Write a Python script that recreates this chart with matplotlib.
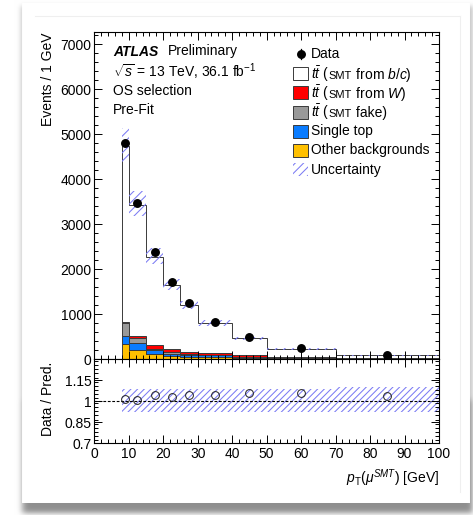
import numpy as np
import matplotlib
matplotlib.use("Agg")
import matplotlib.pyplot as plt
from matplotlib.patches import Rectangle
from matplotlib.lines import Line2D
from matplotlib.offsetbox import TextArea, HPacker, AnchoredOffsetbox
from matplotlib.ticker import MultipleLocator, FixedLocator, FixedFormatter

plt.rcParams['font.family'] = ['Liberation Sans', 'DejaVu Sans']
plt.rcParams['mathtext.fontset'] = 'custom'
plt.rcParams['mathtext.rm'] = 'Liberation Sans'
plt.rcParams['mathtext.it'] = 'Liberation Sans:italic'
plt.rcParams['mathtext.bf'] = 'Liberation Sans:bold'
plt.rcParams['hatch.linewidth'] = 0.75

# ---- binned distributions (events / 1 GeV) ----
bin_edges = [8, 10, 15, 20, 25, 30, 40, 50, 70, 100]
data = [4813, 3467, 2378, 1711, 1258, 836, 494, 243, 89]
other_bkg = [330, 207, 110, 70, 55, 60, 35, 22, 10]
single_top = [195, 148, 95, 55, 40, 25, 12, 6, 3]
ttbar_fake = [275, 126, 22, 35, 15, 8, 6, 4, 2]
ttbar_w = [30, 44, 88, 70, 55, 52, 43, 10, 5]
ttbar_bc = [3910, 2915, 1965, 1425, 1035, 653, 370, 188, 66]
# relative systematic uncertainty on the prediction
unc_up = [0.085, 0.085, 0.085, 0.085, 0.085, 0.085, 0.085, 0.085, 0.10]
unc_dn = [0.075, 0.075, 0.075, 0.075, 0.075, 0.075, 0.075, 0.075, 0.075]

main_yticks = [0, 1000, 2000, 3000, 4000, 5000, 6000, 7000]
ratio_yticks = [0.7, 0.85, 1.0, 1.15, 1.3]
ratio_ylabels = ['0.7', '0.85', '1', '1.15', '']
x_ticks = [0, 10, 20, 30, 40, 50, 60, 70, 80, 90, 100]

W, H = 473, 515
fig = plt.figure(figsize=(W / 100, H / 100), dpi=100)

# ---- card background with soft drop shadow ----
def blur(arr, sigma):
    r = int(3 * sigma)
    k = np.exp(-0.5 * (np.arange(-r, r + 1) / sigma) ** 2)
    k /= k.sum()
    arr = np.apply_along_axis(lambda v: np.convolve(np.pad(v, r, mode='edge'), k, 'valid'), 0, arr)
    arr = np.apply_along_axis(lambda v: np.convolve(np.pad(v, r, mode='edge'), k, 'valid'), 1, arr)
    return arr

bg = fig.add_axes([0, 0, 1, 1], zorder=-10)
bg.set_axis_off()
img = np.ones((H, W, 3))
mask = np.zeros((H, W))
mask[6:513, 21:472] = 1.0
mask_bottom = np.zeros((H, W))
mask_bottom[400:513, 24:471] = 1.0
shade = 0.22 * blur(mask, 2.5) + 0.22 * blur(mask_bottom, 3.0)
img *= (1 - shade)[..., None]
img[3:503, 22:469] = 1.0
bg.imshow(img, extent=(0, W, H, 0), interpolation='bilinear', aspect='auto')
bg.plot([35, 460], [16, 16], color='#efefef', lw=0.8)
bg.plot([460, 460], [16, 492], color='#efefef', lw=0.8)
bg.set_xlim(0, W)
bg.set_ylim(H, 0)

L, R = 94.3, 439.0
ax = fig.add_axes([L / W, 1 - 359.3 / H, (R - L) / W, 327 / H])
rax = fig.add_axes([L / W, 1 - 443.3 / H, (R - L) / W, 84 / H], sharex=ax)

edges = np.array(bin_edges, float)
centers = 0.5 * (edges[:-1] + edges[1:])

colors = {
    'other': '#ffc000',
    'single': '#0a7cff',
    'fake': '#999999',
    'w': '#ff0000',
    'bc': 'white',
}
stack = [(other_bkg, colors['other']), (single_top, colors['single']),
         (ttbar_fake, colors['fake']), (ttbar_w, colors['w']), (ttbar_bc, colors['bc'])]
base = np.zeros(len(centers))
for vals, col in stack:
    top = base + np.asarray(vals, float)
    ax.stairs(top, edges, baseline=base, fill=True, facecolor=col,
              edgecolor='#3a3a3a', lw=0.7)
    base = top
total = base

hatch_col = '#7c7cf4'
up = np.asarray(unc_up)
dn = np.asarray(unc_dn)
ax.stairs(total * (1 + up), edges, baseline=total * (1 - dn), fill=True,
          facecolor='none', edgecolor=hatch_col, hatch='////', lw=0)
ax.plot(centers, data, 'o', color='black', ms=5.4, zorder=5)

ratio = np.asarray(data) / total
rax.stairs(1 + up, edges, baseline=1 - dn, fill=True, facecolor='none',
           edgecolor=hatch_col, hatch='/////', lw=0)
rax.axhline(1.0, color='black', lw=0.8, ls=(0, (2.5, 1.5)))
rax.plot(centers, ratio, 'o', mfc='none', mec='#222222', mew=0.7, ms=5.6, zorder=5)

# ---- axes styling ----
ax.set_xlim(0, 100)
ax.set_ylim(0, 7270)
rax.set_ylim(0.7, 1.3)
for a in (ax, rax):
    a.tick_params(which='both', direction='in', top=True, right=True,
                  labelsize=10, width=0.7, colors='black')
    a.tick_params(which='major', length=6)
    a.tick_params(which='minor', length=3)
    a.xaxis.set_major_locator(FixedLocator(x_ticks))
    a.xaxis.set_minor_locator(MultipleLocator(2))
    for s in a.spines.values():
        s.set_linewidth(0.8)
ax.tick_params(axis='y', pad=2)
ax.tick_params(labelbottom=False)
ax.yaxis.set_major_locator(FixedLocator(main_yticks))
ax.yaxis.set_minor_locator(MultipleLocator(200))
rax.yaxis.set_major_locator(FixedLocator(ratio_yticks))
rax.yaxis.set_major_formatter(FixedFormatter(ratio_ylabels))
rax.yaxis.set_minor_locator(MultipleLocator(0.03))
rax.tick_params(axis='y', pad=2)
rax.tick_params(axis='x', pad=3)

ax.set_ylabel('Events / 1 GeV', fontsize=10, loc='top')
ax.yaxis.set_label_coords(-0.115, 1.0)
rax.set_ylabel('Data / Pred.', fontsize=10, loc='top')
rax.yaxis.set_label_coords(-0.115, 0.97)
rax.set_xlabel(r'$p_{\mathrm{T}}(\mu^{SMT})$ [GeV]', fontsize=10, loc='right')
rax.xaxis.set_label_coords(1.0, -0.29)


def ax_y(py):
    return (359.3 - py) / 327.0


def ax_x(px):
    return (px - L) / (R - L)


def rich(pieces, x, y, sep=0):
    boxes = [TextArea(t, textprops=dict(fontsize=fs, **kw)) for t, fs, kw in pieces]
    pack = HPacker(children=boxes, align='baseline', pad=0, sep=sep)
    ab = AnchoredOffsetbox(loc='center left', child=pack, pad=0, borderpad=0,
                           frameon=False, bbox_to_anchor=(x, y),
                           bbox_transform=ax.transAxes)
    ax.add_artist(ab)


# ---- labels ----
rich([('ATLAS', 10, dict(fontweight='bold', fontstyle='italic')),
      ('Preliminary', 10, {})], ax_x(113), ax_y(51.5), sep=7)
rich([(r'$\sqrt{s}$ = 13 TeV, 36.1 fb$^{-1}$', 10, {})], ax_x(113), ax_y(71.5))
rich([('OS selection', 10, {})], ax_x(113), ax_y(91.0))
rich([('Pre-Fit', 10, {})], ax_x(113), ax_y(110.5))

# ---- legend ----
box_x, box_w, box_h = ax_x(293.3), 15 / (R - L), 13 / 327.0
text_x = ax_x(310.7)
rows = [54.0, 73.7, 92.7, 112.3, 131.3, 150.0, 169.7]

ax.add_line(Line2D([ax_x(300.5)], [ax_y(rows[0])], marker='o', color='black', ms=5.4,
                   transform=ax.transAxes, clip_on=False))
ax.add_line(Line2D([ax_x(300.5), ax_x(300.5)], [ax_y(rows[0] - 5), ax_y(rows[0] + 5)],
                   color='black', lw=0.9, transform=ax.transAxes, clip_on=False))
rich([('Data', 10, {})], text_x, ax_y(rows[0]))

tt_entries = [
    (colors['bc'], [(r'$t\bar{t}$ (', 10, {}), ('SMT', 8, {}), (r' from $b/c$)', 10, {})]),
    (colors['w'], [(r'$t\bar{t}$ (', 10, {}), ('SMT', 8, {}), (r' from $W$)', 10, {})]),
    (colors['fake'], [(r'$t\bar{t}$ (', 10, {}), ('SMT', 8, {}), (' fake)', 10, {})]),
    (colors['single'], [('Single top', 10, {})]),
    (colors['other'], [('Other backgrounds', 10, {})]),
]
for (col, pieces), py in zip(tt_entries, rows[1:6]):
    ax.add_patch(Rectangle((box_x, ax_y(py) - box_h / 2), box_w, box_h, transform=ax.transAxes,
                           facecolor=col, edgecolor='#3a3a3a', lw=0.7, clip_on=False))
    rich(pieces, text_x, ax_y(py))

ax.add_patch(Rectangle((box_x, ax_y(rows[6]) - box_h / 2), box_w, box_h, transform=ax.transAxes,
                       facecolor='none', edgecolor=hatch_col, hatch='////', lw=0, clip_on=False))
rich([('Uncertainty', 10, {})], text_x, ax_y(rows[6]))

fig.savefig('out.png', dpi=100)
